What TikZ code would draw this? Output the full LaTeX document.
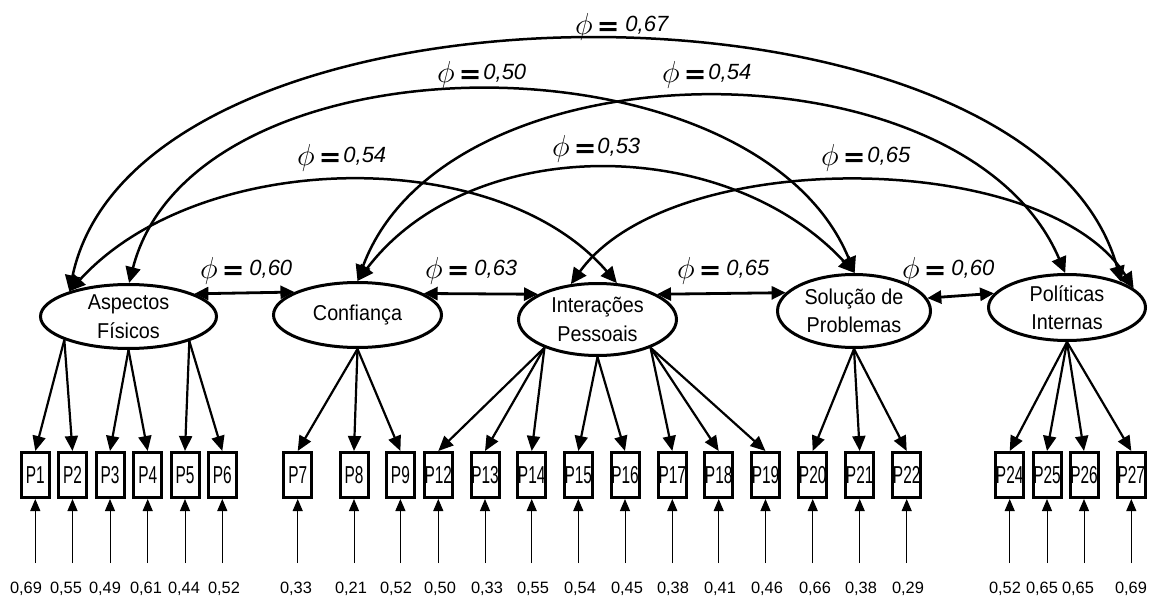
\RequirePackage{fix-cm}
\documentclass[tikz,border=0pt]{standalone}
\usepackage{fontspec}
\usepackage{graphicx}
\setmainfont{Liberation Sans}
\newfontfamily\ellfont[FakeStretch=0.92]{Liberation Sans}
\newfontfamily\boxfont[FakeStretch=0.63]{Liberation Sans}
\newfontfamily\eqfnt{DejaVu Sans}
\usetikzlibrary{shapes.geometric,arrows.meta}
\newcommand{\covlab}[3]{\raisebox{-3pt}{\fontsize{24.88}{25}\selectfont\scalebox{1.22}{$\phi$}}\hspace{#1}\raisebox{-4pt}{\eqfnt\bfseries\fontsize{27}{27}\selectfont=}\hspace{#2}{\fontsize{22}{22}\selectfont\itshape #3}}
\tikzset{
  ell/.style={draw, line width=3pt, ellipse, inner sep=0pt},
  etext/.style={font=\ellfont\fontsize{21.5}{28.5}\selectfont, align=center, inner sep=0pt},
  pbox/.style={draw, line width=3pt, minimum width=28pt, minimum height=45pt, inner sep=0pt, font=\boxfont\fontsize{24.5}{24.5}\selectfont},
  load/.style={line width=2.2pt, -{Triangle[length=15pt,width=13pt]}},
  errar/.style={line width=1pt, -{Triangle[length=12pt,width=10pt]}},
  errlab/.style={font=\fontsize{16.4}{16.4}\selectfont, inner sep=0pt, anchor=base},
  cov/.style={line width=2.5pt, {Triangle[length=16pt,width=15pt]}-{Triangle[length=16pt,width=15pt]}},
  corr/.style={line width=2.8pt, {Triangle[length=14pt,width=13pt]}-{Triangle[length=14pt,width=13pt]}},
  clab/.style={inner sep=0pt, anchor=base west},
}
\begin{document}
\begin{tikzpicture}[x=1pt,y=-1pt]
\useasboundingbox (0,0) rectangle (1151,596);
% latent variables
\node[ell, minimum width=176pt, minimum height=64pt] (asp) at (128.5,316.5) {};
\node[etext] (aspT) at (asp) {Aspectos\\Físicos};
\node[ell, minimum width=168pt, minimum height=65pt] (conf) at (357.5,315) {};
\node[etext] (confT) at (conf) {Confiança};
\node[ell, minimum width=158pt, minimum height=72pt] (int) at (597.5,319.5) {};
\node[etext] (intT) at (int) {Interações\\Pessoais};
\node[ell, minimum width=153pt, minimum height=73pt] (sol) at (854,311) {};
\node[etext] (solT) at (sol) {Solução de\\Problemas};
\node[ell, minimum width=157pt, minimum height=66pt] (pol) at (1067,307.5) {};
\node[etext] (polT) at (pol) {Políticas\\Internas};
% observed variables, errors
\foreach \n/\x/\lx/\v in {1/35.3/26/{0,69}, 2/72.5/66/{0,55}, 3/110/105/{0,49}, 4/147.7/146/{0,61}, 5/185/184/{0,44}, 6/222.3/224/{0,52}, 7/297.7/296/{0,33}, 8/354/351/{0,21}, 9/400.4/396/{0,52}, 12/438.3/440/{0,50}, 13/485/487/{0,33}, 14/531.7/533/{0,55}, 15/578.3/580/{0,54}, 16/625/627/{0,45}, 17/672.3/673/{0,38}, 18/718.7/720/{0,41}, 19/765.5/767/{0,46}, 20/812.7/815/{0,66}, 21/859.7/861/{0,38}, 22/906.7/908/{0,29}, 24/1009.7/1005/{0,52}, 25/1047/1042/{0,65}, 26/1084/1078/{0,65}, 27/1131.3/1131/{0,69}}{
  \node[pbox] (P\n) at (\x,475) {P\n};
  \coordinate (e\n) at (\x,563);
  \node[errlab] (v\n) at (\lx,593) {\v};
  \draw[errar] (e\n) -- (P\n.south);
}
% loadings
\draw[load] (asp.200) -- (P1.north);
\draw[load] (asp.200) -- (P2.north);
\draw[load] (asp.270) -- (P3.north);
\draw[load] (asp.270) -- (P4.north);
\draw[load] (asp.338) -- (P5.north);
\draw[load] (asp.338) -- (P6.north);
\draw[load] (conf.270) -- (P7.north);
\draw[load] (conf.270) -- (P8.north);
\draw[load] (conf.270) -- (P9.north);
\draw[load] (int.208) -- (P12.north);
\draw[load] (int.208) -- (P13.north);
\draw[load] (int.208) -- (P14.north);
\draw[load] (int.270) -- (P15.north);
\draw[load] (int.270) -- (P16.north);
\draw[load] (int.332) -- (P17.north);
\draw[load] (int.332) -- (P18.north);
\draw[load] (int.332) -- (P19.north);
\draw[load] (sol.270) -- (P20.north);
\draw[load] (sol.270) -- (P21.north);
\draw[load] (sol.270) -- (P22.north);
\draw[load] (pol.270) -- (P24.north);
\draw[load] (pol.270) -- (P25.north);
\draw[load] (pol.270) -- (P26.north);
\draw[load] (pol.270) -- (P27.north);
% neighbour correlations
\draw[corr] (asp.19) -- (conf.160);
\draw[corr] (conf.18) -- (int.157);
\draw[corr] (int.23) -- (sol.165);
\draw[corr] (sol.10) -- (pol.169);
\node[clab] (l1) at (200,275) {\covlab{4pt}{5pt}{0,60}};
\node[clab] (l2) at (425,275) {\covlab{4pt}{5pt}{0,63}};
\node[clab] (l3) at (677,275) {\covlab{4pt}{5pt}{0,65}};
\node[clab] (l4) at (902,275) {\covlab{4pt}{5pt}{0,60}};
% long covariances
\draw[cov] (asp.157) .. controls +(70,-332) and +(-90,-324) .. (pol.25);
\draw[cov] (asp.89) .. controls +(65,-253) and +(-100,-245) .. (sol.89);
\draw[cov] (conf.90) .. controls +(90,-243) and +(-100,-235) .. (pol.93);
\draw[cov] (asp.157) .. controls +(130,-143) and +(-120,-140) .. (int.62);
\draw[cov] (conf.90) .. controls +(112,-148) and +(-130,-140) .. (sol.89);
\draw[cov] (int.127) .. controls +(100,-139) and +(-88,-140) .. (pol.16);
\node[clab] (lA) at (575,32) {\covlab{4pt}{6pt}{0,67}};
\node[clab] (lB) at (437,80) {\covlab{4pt}{2pt}{0,50}};
\node[clab] (lC) at (662,80) {\covlab{4pt}{2pt}{0,54}};
\node[clab] (lD) at (297,163) {\covlab{4pt}{2pt}{0,54}};
\node[clab] (lE) at (552,154) {\covlab{4pt}{1pt}{0,53}};
\node[clab] (lF) at (821,163) {\covlab{4pt}{2pt}{0,65}};
\end{tikzpicture}
\end{document}
